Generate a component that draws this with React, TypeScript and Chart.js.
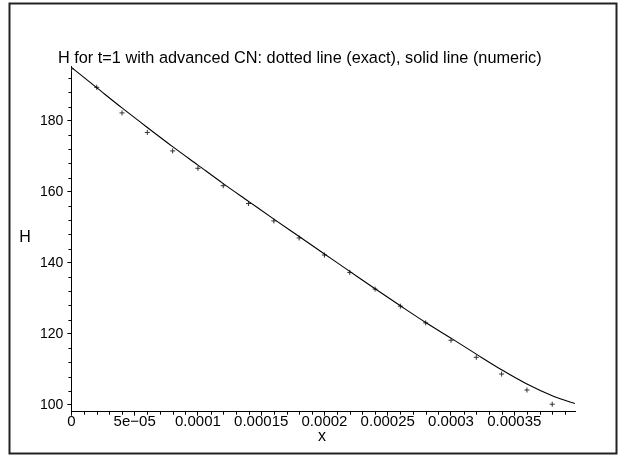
import React, { useEffect, useRef } from "react";
import { Chart, registerables } from "chart.js";

Chart.register(...registerables);

const TITLE = "H for t=1 with advanced CN: dotted line (exact), solid line (numeric)";
const X_TITLE = "x";
const Y_TITLE = "H";

// exact solution (crosses)
const EXACT_X = [0, 2e-5, 4e-5, 6e-5, 8e-5, 1e-4, 1.2e-4, 1.4e-4, 1.6e-4, 1.8e-4, 2e-4, 2.2e-4, 2.4e-4, 2.6e-4, 2.8e-4, 3e-4, 3.2e-4, 3.4e-4, 3.6e-4, 3.8e-4];
const EXACT_H = [194.6, 189.4, 182.2, 176.7, 171.5, 166.6, 161.7, 156.7, 151.8, 147.0, 142.2, 137.3, 132.6, 127.8, 123.1, 118.2, 113.4, 108.7, 104.2, 100.2];

// numeric solution (solid line)
const NUM_X = [0, 2e-5, 4e-5, 6e-5, 8e-5, 1e-4, 1.2e-4, 1.4e-4, 1.6e-4, 1.8e-4, 2e-4, 2.2e-4, 2.4e-4, 2.6e-4, 2.8e-4, 3e-4, 3.2e-4, 3.4e-4, 3.6e-4, 3.8e-4, 3.9e-4, 3.98e-4];
const NUM_H = [195.0, 189.3, 183.6, 178.1, 172.7, 167.5, 162.3, 157.3, 152.3, 147.4, 142.5, 137.6, 132.7, 127.9, 123.2, 118.8, 114.3, 109.9, 105.9, 102.6, 101.3, 100.4];

const X_TICK_LABELS = ["0", "5e\u221205", "0.0001", "0.00015", "0.0002", "0.00025", "0.0003", "0.00035"];
const X_MIN = 0;
const X_MAX = 0.000398;
const X_STEP = 5e-5;
const X_MINOR = 1e-5;
const Y_MIN = 98.1;
const Y_MAX = 195.4;
const Y_STEP = 20;
const Y_MINOR = 4;

const FONT = "'Liberation Sans', Arial, Helvetica, sans-serif";

export default function App() {
  const ref = useRef<HTMLCanvasElement | null>(null);

  useEffect(() => {
    const canvas = ref.current;
    if (!canvas) return;

    const decor = {
      id: "decor",
      afterDraw(chart: any) {
        const ctx = chart.ctx;
        const xs = chart.scales.x;
        const ys = chart.scales.y;
        const area = chart.chartArea;
        ctx.save();
        // frame
        ctx.strokeStyle = "#222";
        ctx.lineWidth = 2;
        ctx.strokeRect(9.5, 3.5, 607, 450);
        // minor ticks
        ctx.strokeStyle = "#000";
        ctx.lineWidth = 1;
        ctx.beginPath();
        for (let i = 0; X_MIN + i * X_MINOR <= X_MAX + 1e-12; i++) {
          if (i % 5 === 0) continue;
          const px = Math.round(xs.getPixelForValue(X_MIN + i * X_MINOR)) + 0.5;
          ctx.moveTo(px, area.bottom);
          ctx.lineTo(px, area.bottom + 3);
        }
        for (let v = 100; v <= Y_MAX; v += Y_MINOR) {
          if ((v - 100) % 20 === 0) continue;
          const py = Math.round(ys.getPixelForValue(v)) + 0.5;
          ctx.moveTo(area.left - 3, py);
          ctx.lineTo(area.left, py);
        }
        ctx.stroke();
        // texts
        ctx.fillStyle = "#000";
        ctx.font = `16.3px ${FONT}`;
        ctx.textAlign = "left";
        ctx.textBaseline = "alphabetic";
        ctx.fillText(TITLE, 58, 62.5);
        ctx.font = `16px ${FONT}`;
        ctx.textAlign = "center";
        ctx.textBaseline = "middle";
        ctx.fillText(Y_TITLE, 25, 238);
        ctx.fillText(X_TITLE, 322, 437);
        ctx.restore();
      },
    };

    const chart = new Chart(canvas, {
      type: "scatter",
      data: {
        datasets: [
          {
            label: "numeric",
            data: NUM_X.map((x, i) => ({ x, y: NUM_H[i] })),
            showLine: true,
            borderColor: "#000",
            borderWidth: 1.1,
            pointRadius: 0,
            cubicInterpolationMode: "monotone",
            fill: false,
          },
          {
            label: "exact",
            data: EXACT_X.map((x, i) => ({ x, y: EXACT_H[i] })),
            showLine: false,
            pointStyle: "cross",
            pointRadius: 2.5,
            borderColor: "#333",
            borderWidth: 1,
            backgroundColor: "#333",
          },
        ],
      },
      options: {
        animation: false,
        responsive: false,
        devicePixelRatio: 1,
        layout: { padding: { left: 0, right: 50, top: 66, bottom: 0 } },
        plugins: {
          legend: { display: false },
          tooltip: { enabled: false },
          title: { display: false },
        },
        scales: {
          x: {
            type: "linear",
            position: "bottom",
            min: X_MIN,
            max: X_MAX,
            grid: { display: true, drawOnChartArea: false, drawTicks: true, tickLength: 4, color: "#000", lineWidth: 1 },
            border: { display: true, color: "#000", width: 1 },
            ticks: {
              stepSize: X_STEP,
              includeBounds: false,
              autoSkip: false,
              maxRotation: 0,
              color: "#000",
              padding: -3,
              font: { family: FONT, size: 15 },
              callback: (v: any) => {
                const idx = Math.round(Number(v) / X_STEP);
                return X_TICK_LABELS[idx] ?? "";
              },
            },
            afterFit: (s: any) => {
              s.height = 44.3;
            },
          },
          y: {
            type: "linear",
            position: "left",
            min: Y_MIN,
            max: Y_MAX,
            grid: { display: true, drawOnChartArea: false, drawTicks: true, tickLength: 4, color: "#000", lineWidth: 1 },
            border: { display: true, color: "#000", width: 1 },
            ticks: {
              stepSize: Y_STEP,
              includeBounds: false,
              color: "#000",
              padding: 4,
              font: { family: FONT, size: 14 },
              callback: (v: any) => String(Math.round(Number(v))),
            },
            afterFit: (s: any) => {
              s.width = 71.4;
            },
          },
        },
      },
      plugins: [decor],
    } as any);

    return () => chart.destroy();
  }, []);

  return (
    <div style={{ position: "absolute", left: 0, top: 0, width: 625, height: 456, background: "#fff" }}>
      <canvas ref={ref} width={625} height={456} style={{ display: "block", width: 625, height: 456 }} />
    </div>
  );
}
